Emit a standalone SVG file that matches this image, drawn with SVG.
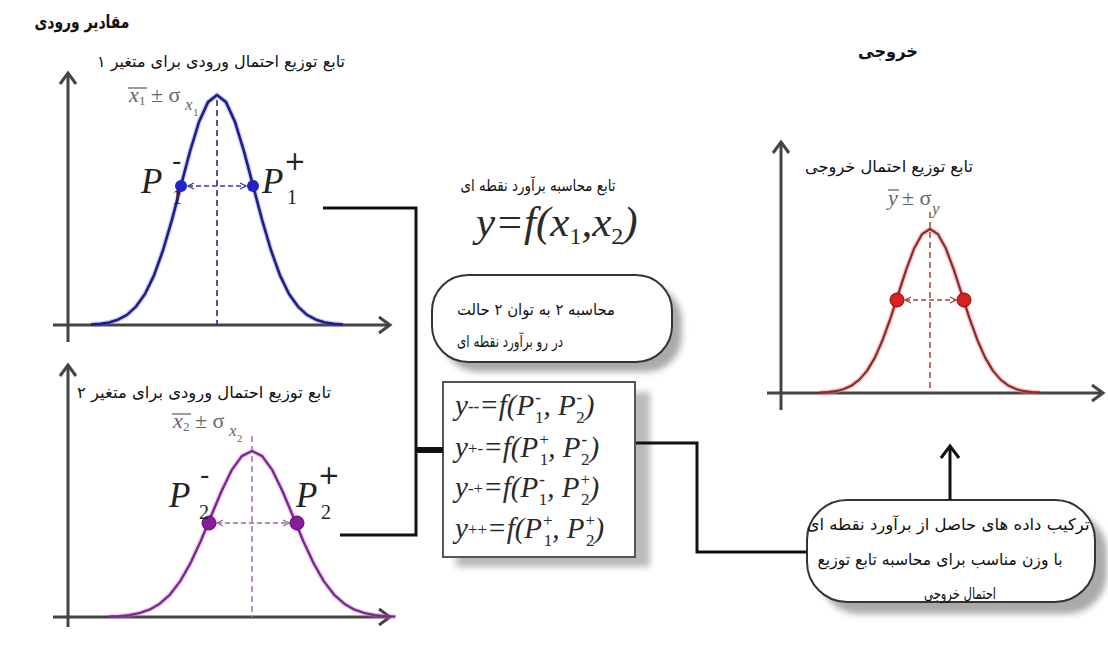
<svg xmlns="http://www.w3.org/2000/svg" width="1108" height="646" viewBox="0 0 1108 646">
<style>
.fa{font-family:"DejaVu Sans",sans-serif;fill:#111;text-anchor:middle}
.fab{font-family:"DejaVu Sans",sans-serif;fill:#111;text-anchor:middle;font-weight:bold}
.axis{fill:none;stroke:#444;stroke-width:3;stroke-linecap:butt}
.chev{fill:none;stroke:#444;stroke-width:3;stroke-linejoin:miter}
.conn{fill:none;stroke:#111;stroke-width:3}
.ser{font-family:"Liberation Serif",serif;font-style:italic}
.fx{font-family:"Liberation Serif",serif;font-style:italic;font-size:29px;fill:#2a2a2a}
.sm{font-size:17px;font-style:normal}
.sg{font-size:17px;font-style:normal;font-weight:bold}
.lbl{font-family:"Liberation Serif",serif;fill:#666}
.pl{font-family:"Liberation Serif",serif;font-size:35px;font-style:italic;fill:#222}
.ps{font-family:"Liberation Serif",serif;font-size:20px;fill:#222}
.pp{font-family:"DejaVu Sans",sans-serif;font-size:26px;fill:#222}
</style>
<defs>
<path id="bell" vector-effect="non-scaling-stroke" d="M-3.5,-0.002 L-3.25,-0.005 L-3,-0.011 L-2.75,-0.023 L-2.5,-0.044 L-2.25,-0.08 L-2,-0.135 L-1.75,-0.216 L-1.5,-0.325 L-1.25,-0.458 L-1,-0.607 L-0.75,-0.755 L-0.5,-0.883 L-0.25,-0.969 L0,-1 L0.25,-0.969 L0.5,-0.883 L0.75,-0.755 L1,-0.607 L1.25,-0.458 L1.5,-0.325 L1.75,-0.216 L2,-0.135 L2.25,-0.08 L2.5,-0.044 L2.75,-0.023 L3,-0.011 L3.25,-0.005 L3.5,-0.002"/>
<filter id="blur" x="-10%" y="-10%" width="120%" height="120%"><feGaussianBlur stdDeviation="3"/></filter>
<marker id="ah1" viewBox="0 0 8 8" refX="7" refY="4" markerWidth="8" markerHeight="8" orient="auto-start-reverse" markerUnits="userSpaceOnUse"><path d="M1,1 L7,4 L1,7" fill="none" stroke="#3a3aa0" stroke-width="1.3"/></marker>
<marker id="ah2" viewBox="0 0 8 8" refX="7" refY="4" markerWidth="8" markerHeight="8" orient="auto-start-reverse" markerUnits="userSpaceOnUse"><path d="M1,1 L7,4 L1,7" fill="none" stroke="#9a6aa8" stroke-width="1.3"/></marker>
<marker id="ah3" viewBox="0 0 8 8" refX="7" refY="4" markerWidth="8" markerHeight="8" orient="auto-start-reverse" markerUnits="userSpaceOnUse"><path d="M1,1 L7,4 L1,7" fill="none" stroke="#a84040" stroke-width="1.3"/></marker>
</defs>
<rect width="1108" height="646" fill="#fff"/>

<g id="titles">
<text class="fab" x="82" y="28" font-size="18" textLength="95" lengthAdjust="spacingAndGlyphs">مقادیر ورودی</text>
<text class="fab" x="888" y="57" font-size="17" textLength="60" lengthAdjust="spacingAndGlyphs">خروجی</text>
</g>

<g id="graph1">
<text class="fa" x="221" y="67" font-size="16" textLength="248" lengthAdjust="spacingAndGlyphs">تابع توزیع احتمال ورودی برای متغیر ۱</text>
<path class="axis" d="M68,73 V342 M53,325 H390"/>
<path class="chev" d="M60,84 L68,73 L76,84 M379,317 L390,325 L379,333"/>
<line x1="217" y1="100" x2="217" y2="325" stroke="#2a2a90" stroke-width="1.6" stroke-dasharray="6,4"/>
<use href="#bell" transform="translate(217,325) scale(36,230)" fill="none" stroke="#6a6ae0" stroke-opacity="0.35" stroke-width="5"/>
<use href="#bell" transform="translate(217,325) scale(36,230)" fill="none" stroke="#1e1e8a" stroke-width="2.6" stroke-linejoin="round"/>
<line x1="188" y1="186" x2="246" y2="186" stroke="#3a3aa0" stroke-width="1.5" stroke-dasharray="5,3" marker-start="url(#ah1)" marker-end="url(#ah1)"/>
<circle cx="181" cy="186" r="6" fill="#2222c8"/>
<circle cx="253" cy="186" r="6" fill="#2222c8"/>
<text class="lbl ser" x="129" y="102" font-size="22">x</text><text class="lbl" x="139" y="105" font-size="13">1</text>
<line x1="128" y1="88" x2="147" y2="88" stroke="#666" stroke-width="1.3"/>
<text class="lbl" x="151" y="102" font-size="22">± σ</text><text class="lbl ser" x="185" y="110" font-size="17">x</text><text class="lbl" x="193" y="116" font-size="11">1</text>
<text class="pl" x="141" y="193">P</text><text class="pp" x="172" y="170">-</text><text class="ps" x="172" y="204">1</text>
<text class="pl" x="262" y="193">P</text><text class="pp" x="284" y="170">+</text><text class="ps" x="287" y="204">1</text>
</g>

<g id="graph2">
<text class="fa" x="204" y="398" font-size="16" textLength="254" lengthAdjust="spacingAndGlyphs">تابع توزیع احتمال ورودی برای متغیر ۲</text>
<path class="axis" d="M68,365 V627 M53,617 H390"/>
<path class="chev" d="M60,376 L68,365 L76,376 M379,609 L390,617 L379,625"/>
<line x1="252" y1="436" x2="252" y2="617" stroke="#a070b0" stroke-width="1.5" stroke-dasharray="6,4"/>
<use href="#bell" transform="translate(252,617) scale(41,166)" fill="none" stroke="#d070e0" stroke-opacity="0.35" stroke-width="5"/>
<use href="#bell" transform="translate(252,617) scale(41,166)" fill="none" stroke="#7a2a8c" stroke-width="2.4" stroke-linejoin="round"/>
<line x1="217" y1="523" x2="289" y2="523" stroke="#9a6aa8" stroke-width="1.5" stroke-dasharray="5,3" marker-start="url(#ah2)" marker-end="url(#ah2)"/>
<circle cx="209" cy="523" r="7" fill="#8a1a9a" stroke="#5a0a6a" stroke-width="1"/>
<circle cx="297" cy="523" r="7" fill="#8a1a9a" stroke="#5a0a6a" stroke-width="1"/>
<text class="lbl ser" x="173" y="428" font-size="22">x</text><text class="lbl" x="183" y="431" font-size="13">2</text>
<line x1="172" y1="414" x2="191" y2="414" stroke="#666" stroke-width="1.3"/>
<text class="lbl" x="195" y="428" font-size="22">± σ</text><text class="lbl ser" x="229" y="436" font-size="17">x</text><text class="lbl" x="237" y="442" font-size="11">2</text>
<text class="pl" x="169" y="507">P</text><text class="pp" x="200" y="484">-</text><text class="ps" x="199" y="519">2</text>
<text class="pl" x="296" y="507">P</text><text class="pp" x="318" y="484">+</text><text class="ps" x="321" y="519">2</text>
</g>

<g id="formula-title">
<text class="fa" x="538" y="191" font-size="16" textLength="155" lengthAdjust="spacingAndGlyphs">تابع محاسبه برآورد نقطه ای</text>
<text class="ser" x="476" y="236" font-size="43" fill="#2a2a2a">y=f(x<tspan font-size="24" font-style="normal" dy="8">1</tspan><tspan dy="-8">,x</tspan><tspan font-size="24" font-style="normal" dy="8">2</tspan><tspan dy="-8">)</tspan></text>
</g>

<g id="box-states">
<rect x="442" y="285" width="240" height="87" rx="36" fill="#aaa" filter="url(#blur)"/>
<rect x="432" y="275" width="240" height="87" rx="36" fill="#fff" stroke="#333" stroke-width="2"/>
<text class="fa" x="536" y="315" font-size="16" textLength="158" lengthAdjust="spacingAndGlyphs">محاسبه ۲ به توان ۲ حالت</text>
<text class="fa" x="510" y="347" font-size="16" textLength="106" lengthAdjust="spacingAndGlyphs">در رو برآورد نقطه ای</text>
</g>

<g id="box-formulas">
<rect x="456" y="392" width="194" height="175" fill="#bbb" filter="url(#blur)"/>
<rect x="443" y="382" width="192" height="175" fill="#fff" stroke="#555" stroke-width="2"/>
<text class="fx" x="455" y="415">y<tspan class="sg" dy="-3">--</tspan><tspan dy="3">=f(P</tspan><tspan class="sg" dx="1" dy="-12">-</tspan><tspan class="sm" dx="-6" dy="20">1</tspan><tspan dy="-8">, P</tspan><tspan class="sg" dx="1" dy="-12">-</tspan><tspan class="sm" dx="-6" dy="20">2</tspan><tspan dy="-8">)</tspan></text>
<text class="fx" x="455" y="457">y<tspan class="sm" dy="-3">+-</tspan><tspan dy="3">=f(P</tspan><tspan class="sm" dx="1" dy="-12">+</tspan><tspan class="sm" dx="-9" dy="20">1</tspan><tspan dy="-8">, P</tspan><tspan class="sg" dx="1" dy="-12">-</tspan><tspan class="sm" dx="-6" dy="20">2</tspan><tspan dy="-8">)</tspan></text>
<text class="fx" x="455" y="497">y<tspan class="sm" dy="-3">-+</tspan><tspan dy="3">=f(P</tspan><tspan class="sg" dx="1" dy="-12">-</tspan><tspan class="sm" dx="-6" dy="20">1</tspan><tspan dy="-8">, P</tspan><tspan class="sm" dx="1" dy="-12">+</tspan><tspan class="sm" dx="-9" dy="20">2</tspan><tspan dy="-8">)</tspan></text>
<text class="fx" x="455" y="538">y<tspan class="sm" dy="-3">++</tspan><tspan dy="3">=f(P</tspan><tspan class="sm" dx="1" dy="-12">+</tspan><tspan class="sm" dx="-9" dy="20">1</tspan><tspan dy="-8">, P</tspan><tspan class="sm" dx="1" dy="-12">+</tspan><tspan class="sm" dx="-9" dy="20">2</tspan><tspan dy="-8">)</tspan></text>
</g>

<g id="graph-output">
<text class="fa" x="889" y="172" font-size="16" textLength="168" lengthAdjust="spacingAndGlyphs">تابع توزیع احتمال خروجی</text>
<path class="axis" d="M781,142 V410 M767,393 H1103"/>
<path class="chev" d="M773,153 L781,142 L789,153 M1092,385 L1103,393 L1092,401"/>
<line x1="930" y1="212" x2="930" y2="393" stroke="#b03838" stroke-width="1.5" stroke-dasharray="6,4"/>
<use href="#bell" transform="translate(930,393) scale(31.5,164)" fill="none" stroke="#f08080" stroke-opacity="0.45" stroke-width="5"/>
<use href="#bell" transform="translate(930,393) scale(31.5,164)" fill="none" stroke="#8a2a2a" stroke-width="2.2" stroke-linejoin="round"/>
<line x1="905" y1="300" x2="956" y2="300" stroke="#a84040" stroke-width="1.5" stroke-dasharray="5,3" marker-start="url(#ah3)" marker-end="url(#ah3)"/>
<circle cx="897" cy="300" r="7" fill="#d82020" stroke="#900" stroke-width="1"/>
<circle cx="964" cy="300" r="7" fill="#d82020" stroke="#900" stroke-width="1"/>
<text class="lbl ser" x="888" y="205" font-size="22">y</text>
<line x1="888" y1="190" x2="899" y2="190" stroke="#666" stroke-width="1.3"/>
<text class="lbl" x="902" y="205" font-size="22">± σ</text><text class="lbl ser" x="932" y="214" font-size="17">y</text>
</g>

<g id="box-combine">
<rect x="819" y="512" width="288" height="102" rx="40" fill="#aaa" filter="url(#blur)"/>
<rect x="807" y="500" width="288" height="102" rx="40" fill="#fff" stroke="#333" stroke-width="2"/>
<text class="fa" x="948" y="530" font-size="16" textLength="283" lengthAdjust="spacingAndGlyphs">ترکیب داده های حاصل از برآورد نقطه ای</text>
<text class="fa" x="940" y="565" font-size="16" textLength="245" lengthAdjust="spacingAndGlyphs">با وزن مناسب برای محاسبه تابع توزیع</text>
<text class="fa" x="960" y="599" font-size="16" textLength="72" lengthAdjust="spacingAndGlyphs">احتمال خروجی</text>
</g>

<g id="connectors">
<path class="conn" d="M323,208 H416 V535 H340"/>
<path d="M416,450 H443" stroke="#111" stroke-width="6" fill="none"/>
<path class="conn" d="M636,443 H697 V552 H807"/>
<path class="conn" d="M950,500 V447"/>
<path d="M941,458 L950,446 L959,458" fill="none" stroke="#111" stroke-width="3"/>
</g>
</svg>
